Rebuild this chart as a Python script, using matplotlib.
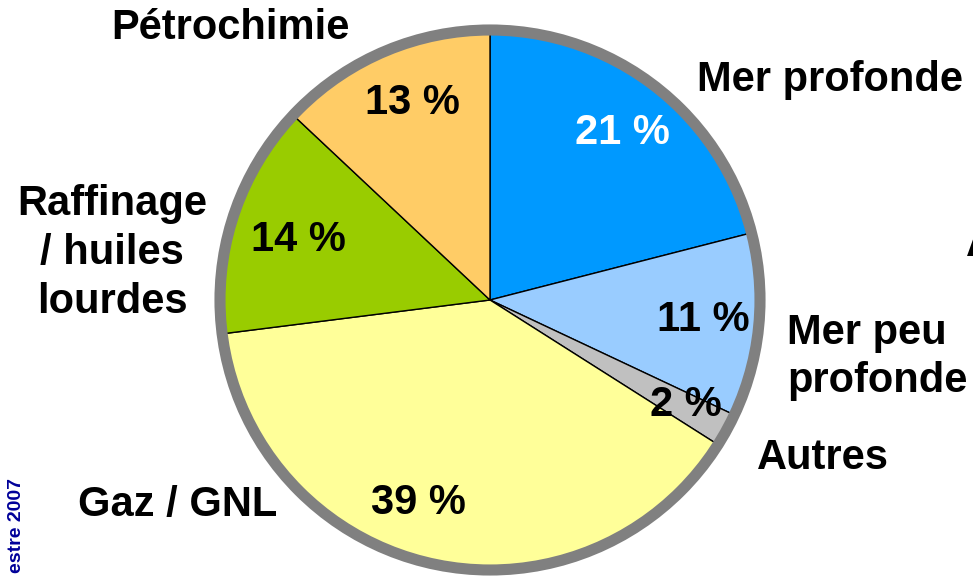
import matplotlib
matplotlib.use("Agg")
import matplotlib.pyplot as plt
from matplotlib.patches import Circle

plt.rcParams['font.family'] = ['Liberation Sans', 'DejaVu Sans']

# data, clockwise from 12 o'clock
labels = ["Mer profonde", "Mer peu\nprofonde", "Autres", "Gaz / GNL",
          "Raffinage\n/ huiles\nlourdes", "Pétrochimie"]
shares = [21, 11, 2, 39, 14, 13]
colors = ["#0099FF", "#99CCFF", "#C0C0C0", "#FFFF99", "#99CC00", "#FFCC66"]
pct_colors = ["white", "black", "black", "black", "black", "black"]

W, H = 973, 578
fig = plt.figure(figsize=(W / 100, H / 100), dpi=100)
ax = fig.add_axes([0, 0, 1, 1])

cx, cy, r = 490, H - 300, 270

def Y(y):
    return H - y

wedges, _ = ax.pie(shares, colors=colors, startangle=90, counterclock=False,
                   center=(cx, cy), radius=r, frame=True,
                   wedgeprops=dict(edgecolor="black", linewidth=1.0))
ax.add_patch(Circle((cx, cy), r, fill=False, edgecolor="#808080", linewidth=8, zorder=5))

ax.set_xlim(0, W)
ax.set_ylim(0, H)
ax.set_aspect("equal")
ax.axis("off")

fs = 30
# percentage labels inside slices
pct_pos = [(622, 133), (703, 320), (686, 405), (418, 503), (298, 240), (412, 103)]
for s, (x, y), c in zip(shares, pct_pos, pct_colors):
    ax.text(x, Y(y), f"{s} %", color=c, fontsize=fs, fontweight="bold",
            ha="center", va="center", zorder=6)

# category labels
ax.text(697, Y(80), labels[0], fontsize=fs, fontweight="bold", ha="left", va="center")
ax.text(787, Y(357), labels[1], fontsize=fs, fontweight="bold", ha="left", va="center",
        linespacing=1.28)
ax.text(757, Y(458), labels[2], fontsize=fs, fontweight="bold", ha="left", va="center")
ax.text(178, Y(505), labels[3], fontsize=fs, fontweight="bold", ha="center", va="center")
ax.text(112, Y(253), labels[4], fontsize=fs, fontweight="bold", ha="center", va="center",
        multialignment="center", linespacing=1.3)
ax.text(230, Y(28), labels[5], fontsize=fs, fontweight="bold", ha="center", va="center")

ax.text(966, Y(245), "A", fontsize=fs, fontweight="bold", ha="left", va="center")
ax.text(17, Y(478), "estre 2007", fontsize=14, fontweight="bold", color="#000099",
        rotation=90, ha="center", va="top")

fig.savefig("out.png", dpi=100)
